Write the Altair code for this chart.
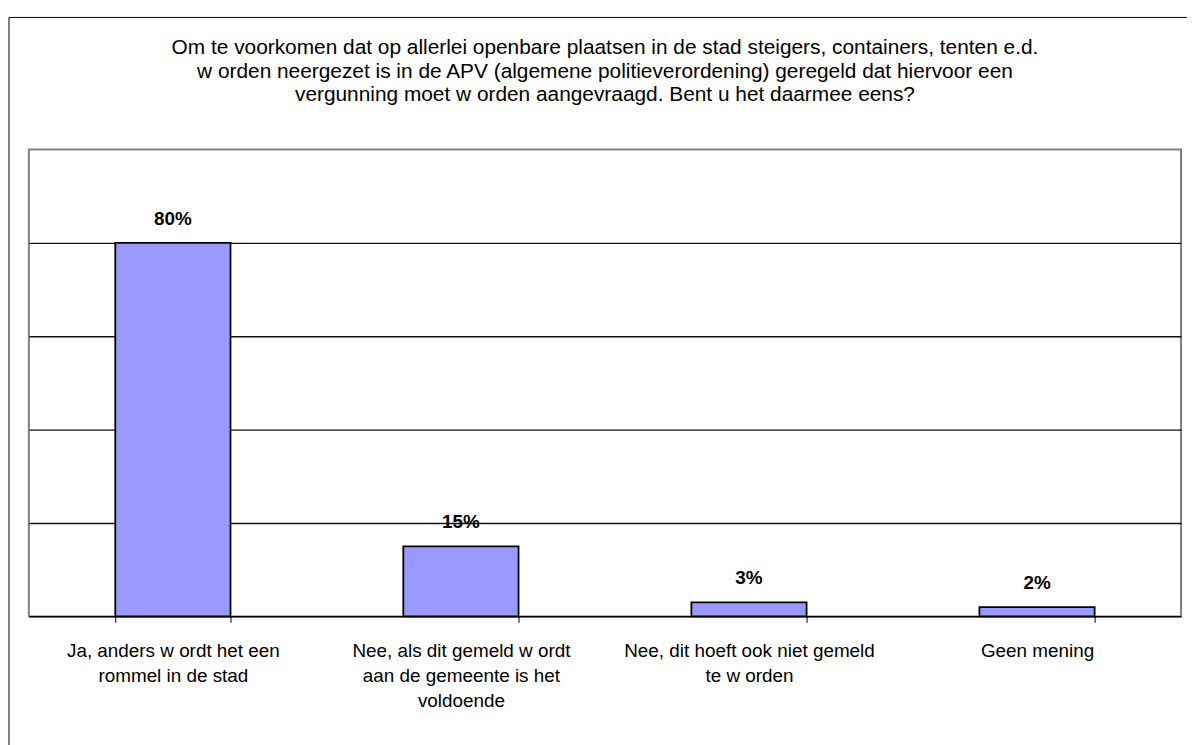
import altair as alt
import pandas as pd

categories = [
    "Ja, anders w ordt het een\nrommel in de stad",
    "Nee, als dit gemeld w ordt\naan de gemeente is het\nvoldoende",
    "Nee, dit hoeft ook niet gemeld\nte w orden",
    "Geen mening",
]
values = [0.80, 0.15, 0.03, 0.02]
value_labels = ["80%", "15%", "3%", "2%"]
title_lines = [
    "Om te voorkomen dat op allerlei openbare plaatsen in de stad steigers, containers, tenten e.d.",
    "w orden neergezet is in de APV (algemene politieverordening) geregeld dat hiervoor een",
    "vergunning moet w orden aangevraagd. Bent u het daarmee eens?",
]
grid_values = [0.2, 0.4, 0.6, 0.8]

df = pd.DataFrame({"cat": categories, "val": values, "lab": value_labels})

W, H = 1160, 470
FONT = "Liberation Sans"

x = alt.X(
    "cat:N",
    sort=categories,
    title=None,
    scale=alt.Scale(paddingInner=0.6, paddingOuter=0.3),
    axis=alt.Axis(
        labelAngle=0,
        labelExpr="split(datum.label, '\\n')",
        labelFontSize=19,
        labelLineHeight=25,
        labelColor="#000",
        labelFont=FONT,
        labelLimit=0,
        labelPadding=19.5,
        tickBand="extent",
        tickColor="#000",
        tickSize=6,
        domainColor="#000",
        domainWidth=1.5,
        grid=False,
    ),
)
y = alt.Y(
    "val:Q",
    scale=alt.Scale(domain=[0, 1], nice=False, zero=True),
    axis=alt.Axis(
        values=grid_values,
        labels=False,
        ticks=False,
        domain=False,
        grid=True,
        gridColor="#111",
        gridWidth=1.3,
        title=None,
    ),
)

base = alt.Chart(df)
bars = base.mark_bar(color="#9999FF", stroke="#000", strokeWidth=1.8).encode(x=x, y=y)
texts = base.mark_text(
    fontWeight="bold", fontSize=19, font=FONT, dy=-18, baseline="alphabetic", color="#000"
).encode(x=x, y=y, text="lab:N")

border = alt.Chart(pd.DataFrame({"k": [0]})).mark_rect(
    fill="transparent", stroke="#000", strokeWidth=1
).encode(
    x=alt.value(-20), x2=alt.value(W + 100), y=alt.value(-133), y2=alt.value(H + 300)
)

chart = (
    alt.layer(border, bars, texts)
    .properties(
        width=W,
        height=H,
        autosize=alt.AutoSizeParams(type="none"),
        padding={"left": 21, "top": 140, "right": 6, "bottom": 127},
        title=alt.TitleParams(
            text=title_lines,
            fontSize=21,
            font=FONT,
            fontWeight="normal",
            color="#000",
            anchor="middle",
            frame="group",
            lineHeight=24,
            offset=-89,
        ),
        background="white",
    )
    .configure_view(stroke="#808080", strokeWidth=2)
)

chart.save("out.html", embed_options={"renderer": "svg", "actions": False})
